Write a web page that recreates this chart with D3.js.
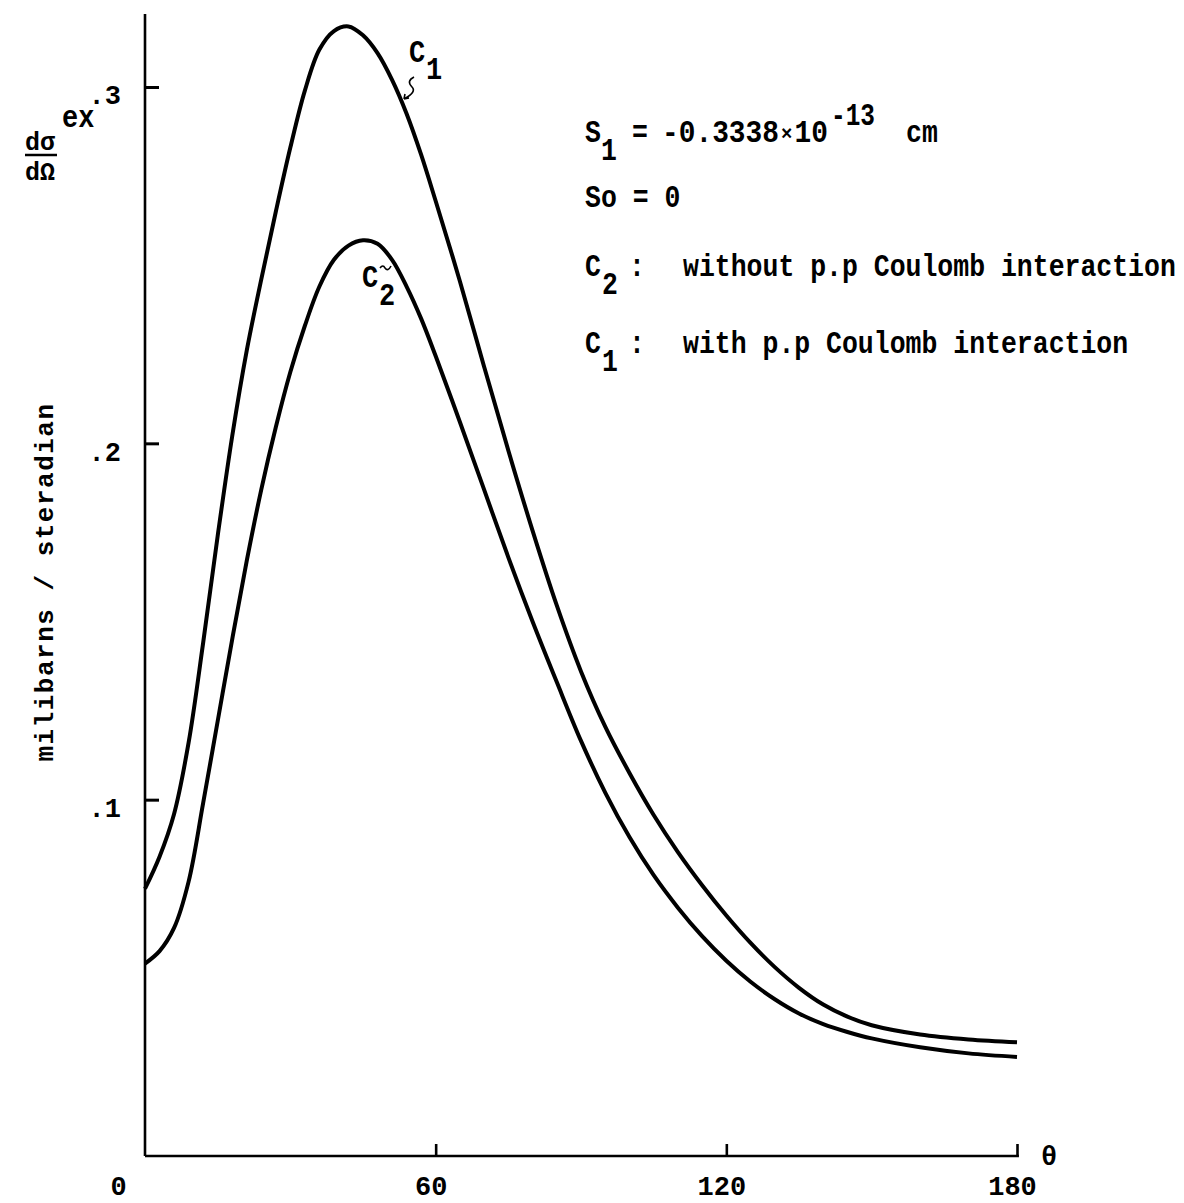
<!DOCTYPE html>
<html>
<head>
<meta charset="utf-8">
<script src="https://cdn.jsdelivr.net/npm/d3@7"></script>
<style>
  html, body { margin: 0; padding: 0; background: #fff; }
  svg { display: block; }
  text { font-family: "Liberation Mono", "Courier New", monospace; font-weight: bold; fill: #000; }
</style>
</head>
<body>
<svg id="chart" width="1184" height="1203"></svg>
<script>
// ---- data ----
const theta = [0,3,6,9,12,15,18,21,24,27,30,33,36,39,42,45,48,51,54,57,60,65,70,75,80,85,90,95,100,105,110,115,120,125,130,135,140,145,150,160,170,180];
// C1 : with p.p Coulomb interaction
const c1 = [0.075,0.084,0.096,0.116,0.144,0.174,0.202,0.226,0.246,0.265,0.283,0.299,0.3105,0.3157,0.317,0.3145,0.3095,0.3020,0.2925,0.2810,0.2680,0.2455,0.2215,0.1980,0.1755,0.1545,0.1360,0.1205,0.1075,0.0957,0.0853,0.0760,0.0675,0.0598,0.0530,0.0472,0.0425,0.0391,0.0367,0.0341,0.0327,0.0319];
// C2 : without p.p Coulomb interaction
const c2 = [0.054,0.0575,0.064,0.077,0.099,0.122,0.145,0.167,0.187,0.2045,0.220,0.233,0.244,0.2515,0.2555,0.257,0.256,0.2515,0.244,0.235,0.2245,0.206,0.187,0.168,0.150,0.133,0.1165,0.102,0.0895,0.0788,0.0697,0.0617,0.0548,0.0489,0.0440,0.0400,0.0370,0.0348,0.0330,0.0305,0.0288,0.0278];
const xTicks = [0, 60, 120, 180];
const yTicks = [0.1, 0.2, 0.3];
const yTickLabels = [".1", ".2", ".3"];

// ---- layout ----
const svg = d3.select("#chart");
svg.append("rect").attr("width", 1184).attr("height", 1203).attr("fill", "#fff");

const x = d3.scaleLinear().domain([0, 180]).range([145, 1017]);
const y = d3.scaleLinear().domain([0, 0.3]).range([1156, 87]);
const yTop = 0.3205;
const xEnd = 180.4;
const FONT = '"Liberation Mono", "Courier New", monospace';
const VS = 1.15; // vertical stretch to mimic the typewriter glyphs

// axis lines
svg.append("line").attr("x1", x(0)).attr("x2", x(0)).attr("y1", y(yTop)).attr("y2", y(0))
  .attr("stroke", "#000").attr("stroke-width", 2.6);
svg.append("line").attr("x1", x(0)).attr("x2", x(xEnd)).attr("y1", y(0)).attr("y2", y(0))
  .attr("stroke", "#000").attr("stroke-width", 2.6);

// y axis (ticks pointing inward)
const yAxis = d3.axisLeft(y).tickValues(yTicks).tickSize(-14).tickPadding(24)
  .tickFormat((d, i) => yTickLabels[i]);
const gy = svg.append("g").attr("transform", `translate(${x(0)},0)`).call(yAxis);
gy.select(".domain").remove();
gy.selectAll(".tick line").attr("stroke", "#000").attr("stroke-width", 3);
gy.selectAll(".tick text").attr("font-size", 27).attr("dy", "0.62em")
  .style("font-family", FONT).style("font-weight", "bold");

// x axis (ticks pointing up)
const xAxis = d3.axisBottom(x).tickValues(xTicks).tickSize(-12).tickPadding(20);
const gx = svg.append("g").attr("transform", `translate(0,${y(0)})`).call(xAxis);
gx.select(".domain").remove();
gx.selectAll(".tick line").attr("stroke", "#000").attr("stroke-width", 2.6)
  .attr("opacity", d => d === 0 ? 0 : 1);
gx.selectAll(".tick text").attr("font-size", 27).attr("dx", d => d === 0 ? -27 : -5)
  .style("font-family", FONT).style("font-weight", "bold");

// theta label
svg.append("text").attr("x", x(180) + 24).attr("y", y(0) + 9).attr("font-size", 27).text("θ");

// curves
const line = d3.line().x(d => x(d[0])).y(d => y(d[1])).curve(d3.curveCatmullRom.alpha(0.5));
[c1, c2].forEach(vals => {
  svg.append("path").datum(theta.map((t, i) => [t, vals[i]]))
    .attr("d", line).attr("fill", "none").attr("stroke", "#000")
    .attr("stroke-width", 4).attr("stroke-linejoin", "round");
});

// helper for (slightly stretched) text
function t(xp, yp, s, size, opts) {
  const vs = (opts && opts.vs) || VS;
  const el = svg.append("text")
    .attr("transform", `translate(${xp},${yp}) scale(1,${vs})`)
    .attr("font-size", size || 26.5).text(s);
  if (opts && opts.len) el.attr("textLength", opts.len).attr("lengthAdjust", "spacingAndGlyphs");
  return el;
}

// y label: dσ/dΩ ^ex
t(25, 150, "dσ", 25, { vs: 1 });
svg.append("line").attr("x1", 25).attr("x2", 57).attr("y1", 155).attr("y2", 155)
  .attr("stroke", "#000").attr("stroke-width", 2.5);
t(25, 180, "dΩ", 25, { vs: 1 });
t(62, 127, "ex", 27);

// rotated unit label
svg.append("text").attr("transform", "translate(53,582) rotate(-90)")
  .attr("text-anchor", "middle").attr("font-size", 26).attr("letter-spacing", 1.5)
  .text("milibarns / steradian");

// curve labels
t(409, 62, "C", 27);
t(426, 79, "1", 27);
svg.append("path").attr("d", "M414,77 q-8,4 -2,10 q5,5 -8,12 m0,0 l5,-1 m-5,1 l1,-5")
  .attr("fill", "none").attr("stroke", "#000").attr("stroke-width", 1.6);
t(362, 287, "C", 27);
t(379, 305, "2", 27);
svg.append("path").attr("d", "M380,268 q3,-4 5,0 q3,4 6,-2")
  .attr("fill", "none").attr("stroke", "#000").attr("stroke-width", 1.6);

// annotation block
t(585, 142, "S");
t(601, 160, "1");
t(632, 142, "=");
const val = svg.append("text")
  .attr("transform", `translate(662,142) scale(1,${VS})`)
  .attr("font-size", 26.5);
val.append("tspan").text("-0.3338");
val.append("tspan").attr("font-size", 18).attr("dx", 2).attr("dy", -2).text("×");
val.append("tspan").attr("dx", 2).attr("dy", 2).text("10");
val.attr("textLength", 166).attr("lengthAdjust", "spacingAndGlyphs");
t(831, 125, "-13", 26.5, { len: 44 });
t(906, 142, "cm");

t(585, 207, "So = 0");

t(585, 276, "C");
t(602, 294, "2");
t(629, 276, ":");
t(683, 276, "without p.p Coulomb interaction");

t(585, 353, "C");
t(602, 371, "1");
t(629, 353, ":");
t(683, 353, "with p.p Coulomb interaction");
</script>
</body>
</html>
